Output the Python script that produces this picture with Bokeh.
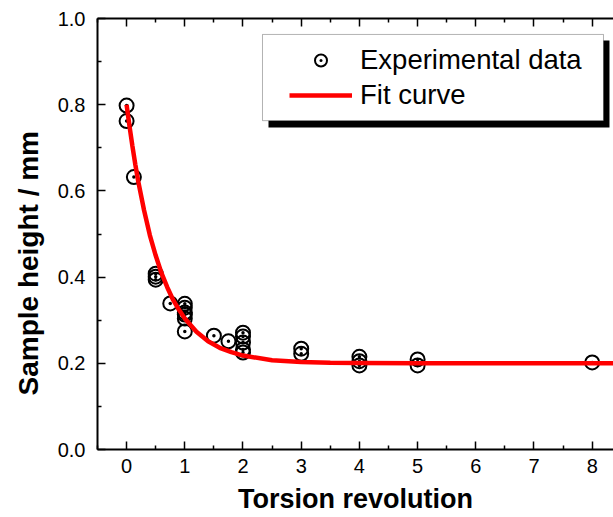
from bokeh.plotting import figure
from bokeh.models import (Range1d, LinearAxis, FixedTicker, BoxAnnotation,
                          Legend, LegendItem, ColumnDataSource, Title,
                          PrintfTickFormatter, CustomJSTickFormatter)
from bokeh.embed import file_html
from bokeh.resources import INLINE

# ---- data ----
exp_x = [0, 0, 0.125, 0.5, 0.5, 0.5, 0.75,
         1, 1, 1, 1, 1, 1,
         1.5, 1.75,
         2, 2, 2, 2, 2,
         3, 3,
         4, 4, 4,
         5, 5,
         8]
exp_y = [0.798, 0.762, 0.632, 0.408, 0.401, 0.394, 0.339,
         0.338, 0.329, 0.318, 0.313, 0.304, 0.274,
         0.264, 0.251,
         0.271, 0.262, 0.248, 0.232, 0.225,
         0.234, 0.222,
         0.215, 0.205, 0.195,
         0.209, 0.195,
         0.202]

fit_x = [0, 0.05, 0.1, 0.15, 0.2, 0.3, 0.4, 0.5, 0.6, 0.7, 0.8, 0.9, 1.0,
         1.2, 1.4, 1.6, 1.8, 2.0, 2.5, 3.0, 3.5, 4.0, 5.0, 6.0, 7.0, 8.0, 8.4]
fit_y = [0.800, 0.750, 0.704, 0.661, 0.622, 0.555, 0.497, 0.450, 0.409, 0.376,
         0.347, 0.324, 0.304, 0.273, 0.251, 0.236, 0.226, 0.218, 0.207, 0.203,
         0.201, 0.2009, 0.2003, 0.2001, 0.2, 0.2, 0.2]

x_ticks = [0, 1, 2, 3, 4, 5, 6, 7, 8]
x_minor = [-0.5, 0.5, 1.5, 2.5, 3.5, 4.5, 5.5, 6.5, 7.5, 8.5]
y_ticks = [0.0, 0.2, 0.4, 0.6, 0.8, 1.0]
y_minor = [0.1, 0.3, 0.5, 0.7, 0.9]

x_title = "Torsion revolution"
y_title = "Sample height / mm"

FONT = "Liberation Sans"

p = figure(width=613, height=517, output_backend="svg", toolbar_location=None,
           x_range=Range1d(-0.5, 8.366), y_range=Range1d(0.0, 1.0),
           min_border_left=97, min_border_right=0, min_border_top=18,
           min_border_bottom=68)
p.outline_line_color = None
p.grid.visible = False
p.background_fill_color = "white"
p.border_fill_color = "white"

bottom_axis = p.below[0]
left_axis = p.left[0]
top_axis = LinearAxis()
p.add_layout(top_axis, "above")

xt = FixedTicker(ticks=x_ticks, minor_ticks=x_minor)
yt = FixedTicker(ticks=y_ticks, minor_ticks=y_minor)
bottom_axis.ticker = xt
top_axis.ticker = xt
left_axis.ticker = yt
left_axis.formatter = PrintfTickFormatter(format="%.1f")

for ax in [bottom_axis, top_axis, left_axis]:
    ax.major_tick_in = 8
    ax.major_tick_out = 0
    ax.minor_tick_in = 4
    ax.minor_tick_out = 0
    ax.axis_line_width = 2
    ax.axis_line_color = "black"
    ax.major_tick_line_width = 1.5
    ax.minor_tick_line_width = 1.5
    ax.major_tick_line_color = "black"
    ax.minor_tick_line_color = "black"
    ax.major_label_text_font = FONT
    ax.major_label_text_font_size = "20px"
    ax.major_label_text_color = "black"
    ax.major_label_standoff = 9

left_axis.major_label_standoff = 12
top_axis.formatter = CustomJSTickFormatter(code="return '';")
top_axis.major_label_standoff = 0

bottom_axis.axis_label = x_title
bottom_axis.axis_label_text_font = FONT
bottom_axis.axis_label_text_font_size = "27px"
bottom_axis.axis_label_text_font_style = "bold"
bottom_axis.axis_label_text_color = "black"
bottom_axis.axis_label_standoff = 8

ytitle = Title(text=y_title, align="left", offset=54, vertical_align="top",
               text_font=FONT, text_font_size="28px",
               text_font_style="bold", text_color="black", standoff=18)
p.add_layout(ytitle, "left")

src = ColumnDataSource(data=dict(x=exp_x, y=exp_y))
pts = p.scatter("x", "y", source=src, marker="circle_dot", size=14,
                line_color="black", line_width=2, fill_color=None)
fit = p.line(fit_x, fit_y, line_color="#ff0000", line_width=4.5)

# legend frame with drop shadow
shadow = BoxAnnotation(left=2.438, right=8.297, top=0.949, bottom=0.747,
                       fill_color="black", fill_alpha=1.0, line_color=None)
box = BoxAnnotation(left=2.335, right=8.194, top=0.963, bottom=0.763,
                    fill_color="white", fill_alpha=1.0, line_color="black",
                    line_width=1)
p.add_layout(shadow)
p.add_layout(box)

legend = Legend(items=[LegendItem(label="Experimental data", renderers=[pts]),
                       LegendItem(label="Fit curve", renderers=[fit])],
                location=(192, 338), padding=0, spacing=3,
                glyph_width=63, glyph_height=30, label_height=30,
                label_standoff=8, border_line_color=None,
                background_fill_alpha=0.0,
                label_text_font=FONT, label_text_font_size="27.5px",
                label_text_color="black")
p.add_layout(legend)

open("out.html", "w").write(file_html(p, INLINE))
